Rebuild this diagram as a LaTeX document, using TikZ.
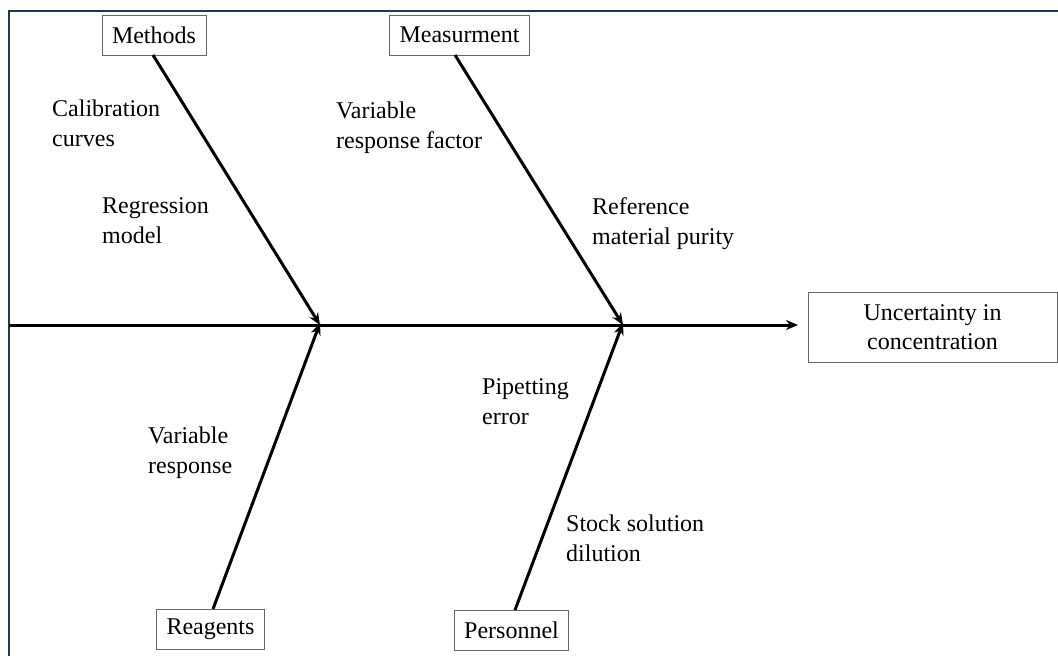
\documentclass[tikz,border=0pt]{standalone}
\usepackage{fontspec}
\setmainfont{Liberation Serif}
\usetikzlibrary{arrows.meta}
\definecolor{framecol}{HTML}{1F3B4D}
\tikzset{
  catbox/.style={draw=black!60, line width=0.8pt, fill=white, minimum height=40pt, inner xsep=10pt, font=\fontsize{24}{29}\selectfont},
  effectbox/.style={draw=black!60, line width=0.8pt, fill=white, minimum width=249pt, minimum height=70pt, align=center, font=\fontsize{24}{29}\selectfont},
  cause/.style={anchor=north west, align=left, inner sep=0pt, font=\fontsize{24}{30}\selectfont},
  bone/.style={line width=3pt, -{Stealth[length=12pt,width=10pt]}}
}
\begin{document}
\begin{tikzpicture}[x=1pt,y=-1pt]
\useasboundingbox (0,0) rectangle (1058,656);
\draw[framecol, line width=2pt] (9,656) -- (9,11) -- (1058,11);
% nodes
\node[catbox] (methods) at (154,35) {Methods};
\node[catbox] (meas) at (459.5,35) {Measurment};
\node[catbox] (reag) at (210.5,629) {Reagents};
\node[catbox] (pers) at (511.5,630) {Personnel};
\node[effectbox] (eff) at (932.5,327) {Uncertainty in\\concentration};
\coordinate (start) at (9,325);
\coordinate (end) at (798,325);
\coordinate (j1) at (320,325);
\coordinate (j2) at (623,325);
% spine
\draw[bone] (start) -- (end);
% bones
\draw[bone] (153,55) -- (j1);
\draw[bone] (455,55) -- (j2);
\draw[bone] (213,609) -- ([yshift=2pt]j1);
\draw[bone] (515,610) -- ([yshift=2pt]j2);
% causes
\node[cause] (c1) at (52,100) {Calibration\\curves};
\node[cause] (c2) at (102,197) {Regression\\model};
\node[cause] (c3) at (336,102) {Variable\\response factor};
\node[cause] (c4) at (592,197) {Reference\\material purity};
\node[cause] (c5) at (148,427) {Variable\\response};
\node[cause] (c6) at (482,378) {Pipetting\\error};
\node[cause] (c7) at (566,515) {Stock solution\\dilution};
\end{tikzpicture}
\end{document}
